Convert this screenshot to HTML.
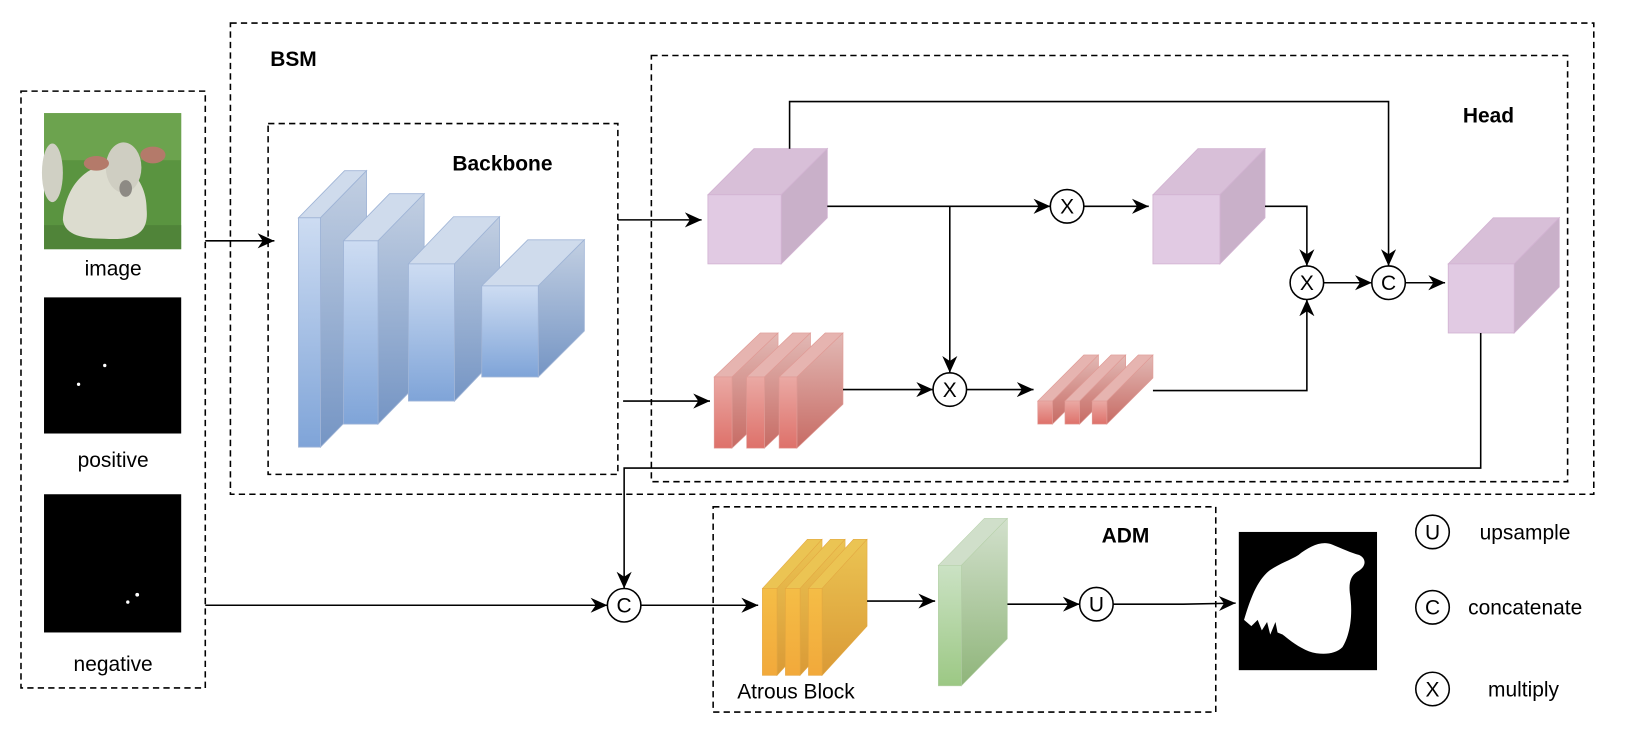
<!DOCTYPE html>
<html><head><meta charset="utf-8"><style>html,body{margin:0;padding:0;background:#fff}svg{display:block}</style></head>
<body>
<svg width="1642" height="742" viewBox="0 0 1568 708.6" xmlns="http://www.w3.org/2000/svg" font-family="Liberation Sans, Arial, sans-serif">
<defs>
<linearGradient id="bF" x1="0" y1="0" x2="0" y2="1"><stop offset="0" stop-color="#cddcf2"/><stop offset="1" stop-color="#7fa4d8"/></linearGradient>
<linearGradient id="bS" x1="0" y1="0" x2="0" y2="1"><stop offset="0" stop-color="#c2cfe2"/><stop offset="1" stop-color="#7595c4"/></linearGradient>
<linearGradient id="rF" x1="0" y1="0" x2="0" y2="1"><stop offset="0" stop-color="#eaa9a4"/><stop offset="1" stop-color="#de716a"/></linearGradient>
<linearGradient id="rS" x1="0" y1="0" x2="0" y2="1"><stop offset="0" stop-color="#e2b9b5"/><stop offset="1" stop-color="#c76b64"/></linearGradient>
<linearGradient id="oF" x1="0" y1="0" x2="0" y2="1"><stop offset="0" stop-color="#f4bd46"/><stop offset="1" stop-color="#f2a93b"/></linearGradient>
<linearGradient id="oS" x1="0" y1="0" x2="0" y2="1"><stop offset="0" stop-color="#ebc453"/><stop offset="1" stop-color="#da9a36"/></linearGradient>
<linearGradient id="gF" x1="0" y1="0" x2="0" y2="1"><stop offset="0" stop-color="#cbe2c4"/><stop offset="1" stop-color="#9cc884"/></linearGradient>
<linearGradient id="gS" x1="0" y1="0" x2="0" y2="1"><stop offset="0" stop-color="#d2e0cc"/><stop offset="1" stop-color="#8fb57a"/></linearGradient>
<marker id="ar" viewBox="0 0 10 10" refX="10" refY="5" markerWidth="16" markerHeight="16" markerUnits="userSpaceOnUse" orient="auto"><path d="M0,0.5 L10,5 L0,9.5 L3,5 z" fill="#000"/></marker>
</defs>

<g fill="none" stroke="#000" stroke-width="1.5" stroke-dasharray="6,4">
<rect x="20" y="87" width="176" height="570"/>
<rect x="220" y="22" width="1302" height="450"/>
<rect x="256" y="118" width="334" height="335"/>
<rect x="622" y="53" width="875" height="407"/>
<rect x="681" y="484" width="480" height="196"/>
</g>

<g font-weight="bold" font-size="20" fill="#000">
<text x="258" y="63">BSM</text>
<text x="432" y="163">Backbone</text>
<text x="1397" y="117">Head</text>
<text x="1052" y="518">ADM</text>
</g>

<!-- input images -->
<rect x="42" y="108" width="131" height="130" fill="#5a9440"/>
<rect x="42" y="108" width="131" height="45" fill="#78ad58" opacity="0.6"/>
<rect x="42" y="215" width="131" height="23" fill="#4a7a35" opacity="0.6"/>
<ellipse cx="50" cy="165" rx="10" ry="28" fill="#d0d0c4"/>
<path d="M60,210 C62,180 80,160 100,158 C125,155 140,175 140,200 C142,222 130,230 100,228 C80,228 62,225 60,210 Z" fill="#dcdccf"/>
<ellipse cx="118" cy="160" rx="17" ry="24" fill="#cfcec2"/>
<ellipse cx="120" cy="180" rx="6" ry="8" fill="#8d8a84"/>
<ellipse cx="92" cy="156" rx="12" ry="7" fill="#b47a6a"/>
<ellipse cx="146" cy="148" rx="12" ry="8" fill="#b47a6a"/>
<rect x="42" y="284" width="131" height="130" fill="#000"/>
<circle cx="100" cy="349" r="1.6" fill="#fff"/><circle cx="75" cy="367" r="1.6" fill="#fff"/>
<rect x="42" y="472" width="131" height="132" fill="#000"/>
<circle cx="131" cy="568" r="1.8" fill="#fff"/><circle cx="122" cy="575" r="1.6" fill="#fff"/>
<g font-size="20" text-anchor="middle" fill="#000">
<text x="108" y="263">image</text>
<text x="108" y="446">positive</text>
<text x="108" y="641">negative</text>
</g>

<g stroke="#9fb4d6" stroke-width="0.8">
<polygon points="285,208 329,163 350,163 306,208" fill="#cfdbec"/><polygon points="306,208 350,163 350,382 306,427" fill="url(#bS)"/><rect x="285" y="208" width="21" height="219" fill="url(#bF)"/>
<polygon points="328,230 372,185 405,185 361,230" fill="#cfdbec"/><polygon points="361,230 405,185 405,360 361,405" fill="url(#bS)"/><rect x="328" y="230" width="33" height="175" fill="url(#bF)"/>
<polygon points="390,252 433,207 477,207 434,252" fill="#cfdbec"/><polygon points="434,252 477,207 477,338 434,383" fill="url(#bS)"/><rect x="390" y="252" width="44" height="131" fill="url(#bF)"/>
<polygon points="460,273 504,229 558,229 514,273" fill="#cfdbec"/><polygon points="514,273 558,229 558,316 514,360" fill="url(#bS)"/><rect x="460" y="273" width="54" height="87" fill="url(#bF)"/>
</g>

<g stroke="#d2b3d2" stroke-width="0.8">
<polygon points="676,186 720,142 790,142 746,186" fill="#d8bfd8"/><polygon points="746,186 790,142 790,208 746,252" fill="#c9b0c9"/><rect x="676" y="186" width="70" height="66" fill="#e1cae3"/>
<polygon points="1101,186 1144,142 1208,142 1165,186" fill="#d8bfd8"/><polygon points="1165,186 1208,142 1208,208 1165,252" fill="#c9b0c9"/><rect x="1101" y="186" width="64" height="66" fill="#e1cae3"/>
<polygon points="1383,252 1426,208 1489,208 1446,252" fill="#d8bfd8"/><polygon points="1446,252 1489,208 1489,274 1446,318" fill="#c9b0c9"/><rect x="1383" y="252" width="63" height="66" fill="#e1cae3"/>
</g>

<g stroke="#e09a95" stroke-width="0.6">
<polygon points="682,360 726,318 743,318 699,360" fill="#e6b4b0"/><polygon points="699,360 743,318 743,386 699,428" fill="url(#rS)"/><rect x="682" y="360" width="17" height="68" fill="url(#rF)"/>
<polygon points="713,360 757,318 774,318 730,360" fill="#e6b4b0"/><polygon points="730,360 774,318 774,386 730,428" fill="url(#rS)"/><rect x="713" y="360" width="17" height="68" fill="url(#rF)"/>
<polygon points="744,360 788,318 805,318 761,360" fill="#e6b4b0"/><polygon points="761,360 805,318 805,386 761,428" fill="url(#rS)"/><rect x="744" y="360" width="17" height="68" fill="url(#rF)"/>
</g>
<g stroke="#e09a95" stroke-width="0.6">
<polygon points="991,383 1035,339 1049,339 1005,383" fill="#e6b4b0"/><polygon points="1005,383 1049,339 1049,361 1005,405" fill="url(#rS)"/><rect x="991" y="383" width="14" height="22" fill="url(#rF)"/>
<polygon points="1017,383 1061,339 1075,339 1031,383" fill="#e6b4b0"/><polygon points="1031,383 1075,339 1075,361 1031,405" fill="url(#rS)"/><rect x="1017" y="383" width="14" height="22" fill="url(#rF)"/>
<polygon points="1043,383 1087,339 1101,339 1057,383" fill="#e6b4b0"/><polygon points="1057,383 1101,339 1101,361 1057,405" fill="url(#rS)"/><rect x="1043" y="383" width="14" height="22" fill="url(#rF)"/>
</g>
<g stroke="#e3a640" stroke-width="0.5">
<polygon points="728,562 771,515 785,515 742,562" fill="#ebc453"/><polygon points="742,562 785,515 785,598 742,645" fill="url(#oS)"/><rect x="728" y="562" width="14" height="83" fill="url(#oF)"/>
<polygon points="750,562 793,515 807,515 764,562" fill="#ebc453"/><polygon points="764,562 807,515 807,598 764,645" fill="url(#oS)"/><rect x="750" y="562" width="14" height="83" fill="url(#oF)"/>
<polygon points="772,562 815,515 828,515 785,562" fill="#ebc453"/><polygon points="785,562 828,515 828,598 785,645" fill="url(#oS)"/><rect x="772" y="562" width="13" height="83" fill="url(#oF)"/>
</g>
<g stroke="#b5d0a8" stroke-width="0.5">
<polygon points="896,540 940,495 962,495 918,540" fill="#d0dfca"/><polygon points="918,540 962,495 962,610 918,655" fill="url(#gS)"/><rect x="896" y="540" width="22" height="115" fill="url(#gF)"/>
</g>
<text x="704" y="667" font-size="20" fill="#000">Atrous Block</text>

<rect x="1183" y="508" width="132" height="132" fill="#000"/>
<path d="M1188,592 C1194,572 1200,555 1212,545 C1222,538 1232,535 1240,530 C1250,522 1262,516 1272,520 C1282,524 1290,528 1298,530 C1306,534 1304,542 1296,546 C1290,550 1288,556 1289,566 C1292,585 1290,605 1282,618 C1275,625 1262,626 1250,622 C1240,618 1232,612 1225,606 L1220,604 L1218,594 L1213,606 L1210,594 L1205,602 L1201,592 L1195,598 Z" fill="#fff"/>

<g fill="none" stroke="#000" stroke-width="1.5" marker-end="url(#ar)">
<line x1="196" y1="230" x2="262" y2="230"/>
<line x1="590" y1="210" x2="670" y2="210"/>
<line x1="595" y1="383" x2="678" y2="383"/>
<line x1="790" y1="197" x2="1003" y2="197"/>
<line x1="907" y1="197" x2="907" y2="356"/>
<polyline points="754,142 754,97 1326,97 1326,254"/>
<line x1="1035" y1="197" x2="1097" y2="197"/>
<polyline points="1208,197 1248,197 1248,254"/>
<line x1="805" y1="372" x2="891" y2="372"/>
<line x1="923" y1="372" x2="987" y2="372"/>
<polyline points="1101,373 1248,373 1248,286"/>
<line x1="1264" y1="270" x2="1310" y2="270"/>
<line x1="1342" y1="270" x2="1380" y2="270"/>
<polyline points="1414,318 1414,447 596,447 596,562"/>
<line x1="196" y1="578" x2="580" y2="578"/>
<line x1="612" y1="578" x2="724" y2="578"/>
<line x1="828" y1="574" x2="893" y2="574"/>
<line x1="962" y1="577" x2="1031" y2="577"/>
<polyline points="1063,577 1130,577 1180,576"/>
</g>

<g fill="#fff" stroke="#000" stroke-width="1.5">
<circle cx="1019" cy="197" r="16"/><circle cx="907" cy="372" r="16"/><circle cx="1248" cy="270" r="16"/>
<circle cx="1326" cy="270" r="16"/><circle cx="596" cy="578" r="16"/><circle cx="1047" cy="577" r="16"/>
<circle cx="1368" cy="508" r="16"/><circle cx="1368" cy="580" r="16"/><circle cx="1368" cy="658" r="16"/>
</g>
<g font-size="20" text-anchor="middle" fill="#000">
<text x="1019" y="204">X</text><text x="907" y="379">X</text><text x="1248" y="277">X</text>
<text x="1326" y="277">C</text><text x="596" y="585">C</text><text x="1047" y="584">U</text>
<text x="1368" y="515">U</text><text x="1368" y="587">C</text><text x="1368" y="665">X</text>
</g>
<g font-size="20" fill="#000">
<text x="1413" y="515">upsample</text>
<text x="1402" y="587">concatenate</text>
<text x="1421" y="665">multiply</text>
</g>
</svg>
</body></html>
